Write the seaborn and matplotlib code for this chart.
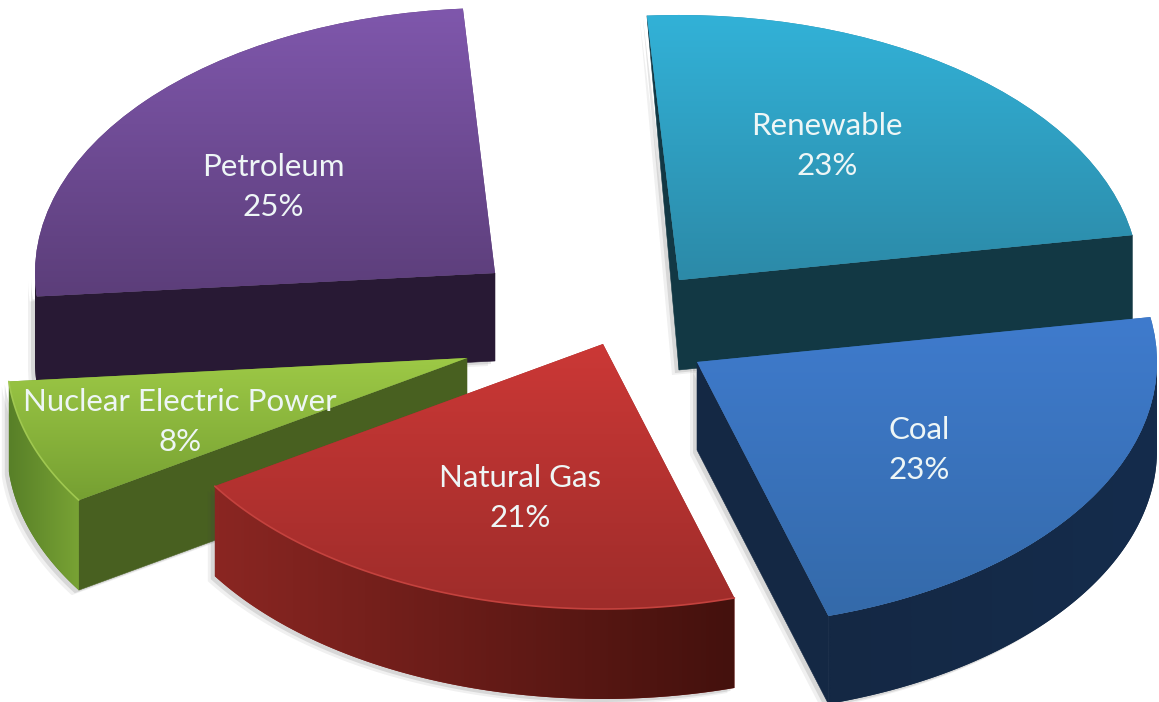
import numpy as np
import matplotlib
matplotlib.use("Agg")
import matplotlib.pyplot as plt
from matplotlib.patches import Polygon
import seaborn as sns

# ---- data ----
categories = ["Renewable", "Coal", "Natural Gas", "Nuclear Electric Power", "Petroleum"]
shares = [23.4, 23.1, 20.6, 7.6, 25.3]   # slice sizes
share_labels = ["23%", "23%", "21%", "8%", "25%"]

# ---- layout (pixels of the 1159x702 canvas) ----
W, H = 1159, 702
RX, RY = 460, 265           # pie radii on screen
CX, CY = 600, 330           # pie centre before explosion
slice_tips = [(679, 280), (697, 362), (603, 344), (467, 358), (495, 273)]
DEPTH = [90, 88, 90, 90, 88]
label_xy = [(827, 146), (919, 450), (520, 498), (180, 422), (273, 187)]
draw_order = [4, 0, 3, 2, 1]

# ---- colours ----
def c(*v):
    return tuple(x / 255 for x in v)

top_hi = [c(50, 178, 216), c(63, 123, 205), c(203, 56, 54), c(157, 201, 70), c(127, 87, 172)]
top_lo = [c(44, 138, 168), c(52, 106, 170), c(158, 44, 42), c(118, 160, 50), c(92, 62, 122)]
rim_l = [c(18, 55, 68), c(20, 40, 68), c(138, 38, 34), c(88, 128, 40), c(40, 25, 50)]
rim_r = [c(18, 55, 68), c(21, 44, 76), c(68, 17, 13), c(120, 162, 52), c(40, 25, 50)]
rim_edge = [None, None, c(196, 66, 62), c(160, 200, 80), None]
face = [c(18, 56, 68), c(20, 40, 68), c(70, 16, 12), c(72, 96, 32), c(40, 25, 52)]
TEXT = c(238, 246, 246)

sns.set_theme(style="white")
plt.rcParams["font.family"] = ["Lato", "DejaVu Sans"]

fig = plt.figure(figsize=(W / 100, H / 100), dpi=100)
ax = fig.add_axes([0, 0, 1, 1])

def X(p):
    return (p - CX) / RX

def Y(p):
    return (CY - p) / RY

wedges, _ = ax.pie(shares, startangle=94, counterclock=False, radius=1)
ax.set_aspect("auto")
ax.axis("off")

def grad_fill(patch, pal, horizontal, z, bounds):
    """Paint a seaborn blended gradient, clipped to a patch."""
    arr = np.array(pal)
    arr = arr[None, :, :] if horizontal else arr[:, None, :]
    im = ax.imshow(arr, extent=bounds, origin="upper", aspect="auto",
                   zorder=z, interpolation="bilinear")
    im.set_clip_path(patch)

def arc(t1, t2, n=80):
    t = np.radians(np.linspace(t1, t2, n))
    return np.cos(t), np.sin(t)

for rank, i in enumerate(draw_order):
    w = wedges[i]
    z = 10 + rank * 10
    tip = (X(slice_tips[i][0]), Y(slice_tips[i][1]))
    w.set_center(tip)
    w.set_linewidth(0)
    w.set_edgecolor("none")
    w.set_facecolor(top_lo[i])
    w.set_zorder(z + 5)
    d = DEPTH[i] / RY
    sides = []

    # cut faces that look towards the viewer
    for t, visible in ((w.theta1, np.cos(np.radians(w.theta1)) > 0),
                       (w.theta2, np.cos(np.radians(w.theta2)) < 0)):
        if not visible:
            continue
        ox = tip[0] + np.cos(np.radians(t))
        oy = tip[1] + np.sin(np.radians(t))
        d_out = 0 if np.sin(np.radians(t)) > 0.9 else d
        sides.append((np.array([(tip[0], tip[1]), (ox, oy), (ox, oy - d_out),
                                (tip[0], tip[1] - d)]), "face"))

    # outer rim on the near half of the ellipse
    a1, a2 = max(w.theta1, -180), min(w.theta2, 0)
    if a2 > a1:
        ax_, ay_ = arc(a1, a2)
        xs = tip[0] + ax_
        ys = tip[1] + ay_
        rim = np.column_stack([np.r_[xs, xs[::-1]], np.r_[ys, ys[::-1] - d]])
        sides.append((rim, "rim"))
        if rim_edge[i] is not None:
            ax.plot(xs, ys, color=rim_edge[i], lw=1.2, zorder=z + 7)

    # soft shadow under the body
    for off, al in (((-7, 5), 0.08), ((-4, 3), 0.14)):
        for pts, _kind in sides:
            s = pts + np.array([off[0] / RX, -off[1] / RY])
            ax.add_patch(Polygon(s, closed=True, fc="0.25", ec="none", alpha=al, zorder=z))

    for pts, kind in sides:
        if kind == "face":
            ax.add_patch(Polygon(pts, closed=True, fc=face[i], ec=face[i], lw=0.4, zorder=z + 2))
        else:
            poly = Polygon(pts, closed=True, fc=rim_l[i], ec="none", zorder=z + 3)
            ax.add_patch(poly)
            pal = sns.blend_palette([rim_l[i], rim_r[i]], 64)
            bounds = (pts[:, 0].min(), pts[:, 0].max(), pts[:, 1].min(), pts[:, 1].max())
            grad_fill(poly, pal, True, z + 3.5, bounds)

    # gradient top
    path_pts = w.get_path().vertices
    ymin, ymax = path_pts[:, 1].min(), path_pts[:, 1].max()
    xmin, xmax = path_pts[:, 0].min(), path_pts[:, 0].max()
    pal = sns.blend_palette([top_hi[i], top_lo[i]], 64)
    grad_fill(w, pal, False, z + 6, (xmin, xmax, ymin, ymax))

    # label
    ax.text(X(label_xy[i][0]), Y(label_xy[i][1]), f"{categories[i]}\n{share_labels[i]}",
            color=TEXT, fontsize=22.5, ha="center", va="center", zorder=200,
            linespacing=1.55)

ax.set_xlim(X(0), X(W))
ax.set_ylim(Y(H), Y(0))
fig.savefig("out.png", dpi=100, facecolor="white")
